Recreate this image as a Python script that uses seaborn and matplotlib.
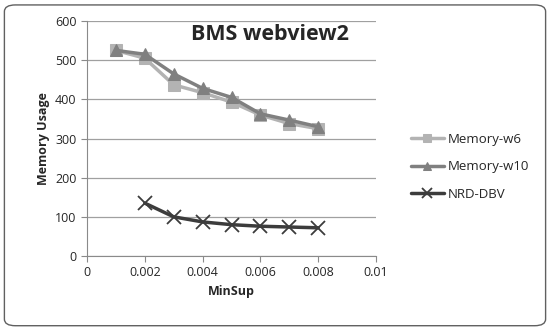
import numpy as np
import pandas as pd
import matplotlib
matplotlib.use("Agg")
import matplotlib.pyplot as plt
import seaborn as sns
from matplotlib.patches import FancyBboxPatch

minsup = [0.001, 0.002, 0.003, 0.004, 0.005, 0.006, 0.007, 0.008]
mem_w6 = [525, 505, 437, 417, 393, 360, 338, 325]
mem_w10 = [525, 515, 465, 428, 405, 363, 347, 330]
nrd_minsup = [0.002, 0.003, 0.004, 0.005, 0.006, 0.007, 0.008]
nrd_dbv = [135, 100, 87, 80, 76, 74, 72]

sns.set_style("white")
plt.rcParams['font.family'] = ['Open Sans', 'DejaVu Sans']

fig = plt.figure(figsize=(5.5, 3.29), dpi=100)
ax = fig.add_axes([87 / 550, 1 - 256 / 329, (376 - 87) / 550, (256 - 21) / 329])

# one call per series, since filled and line-art markers can't share a style map
sns.lineplot(x=minsup, y=mem_w6, color="#b3b3b3", marker="s", markersize=8,
             markeredgecolor="#b3b3b3", linewidth=2.5, linestyle="-",
             label="Memory-w6", ax=ax)
sns.lineplot(x=minsup, y=mem_w10, color="#808080", marker="^", markersize=8,
             markeredgecolor="#808080", linewidth=2.5, linestyle="-",
             label="Memory-w10", ax=ax)
sns.lineplot(x=nrd_minsup, y=nrd_dbv, color="#3c3c3c", marker="x", markersize=10,
             markeredgecolor="#3c3c3c", markeredgewidth=1.3, linewidth=2.5,
             linestyle="-", label="NRD-DBV", ax=ax)

ax.set_xlim(0, 0.01)
ax.set_ylim(0, 600)
ax.set_xticks(np.arange(0, 0.0101, 0.002))
ax.set_xticklabels(["0", "0.002", "0.004", "0.006", "0.008", "0.01"])
ax.set_yticks(range(0, 601, 100))
ax.yaxis.grid(True, color="#a0a0a0", linewidth=0.9)
for s in ["top", "right"]:
    ax.spines[s].set_visible(False)
ax.spines["left"].set_color("#8a8a8a")
ax.spines["bottom"].set_color("#8a8a8a")
ax.tick_params(axis="both", labelsize=9, length=4, direction="out", color="#8a8a8a",
               bottom=True, left=True)
ax.set_xlabel("MinSup", fontsize=9, fontweight="bold")
ax.set_ylabel("Memory Usage", fontsize=9, fontweight="bold")
ax.text(0.0036, 552, "BMS webview2", fontsize=15.5, fontweight="bold")

leg = ax.legend(loc="center left", bbox_to_anchor=(1.08, 0.38), frameon=False,
                fontsize=9.5, handlelength=2.5, labelspacing=1.1, handletextpad=0.3,
                markerscale=0.7)

border = FancyBboxPatch((0.008, 0.01), 0.984, 0.975, boxstyle="round,pad=0,rounding_size=0.02",
                        transform=fig.transFigure, fill=False, edgecolor="#606060", linewidth=1)
fig.patches.append(border)

fig.savefig("out.png", dpi=100)
